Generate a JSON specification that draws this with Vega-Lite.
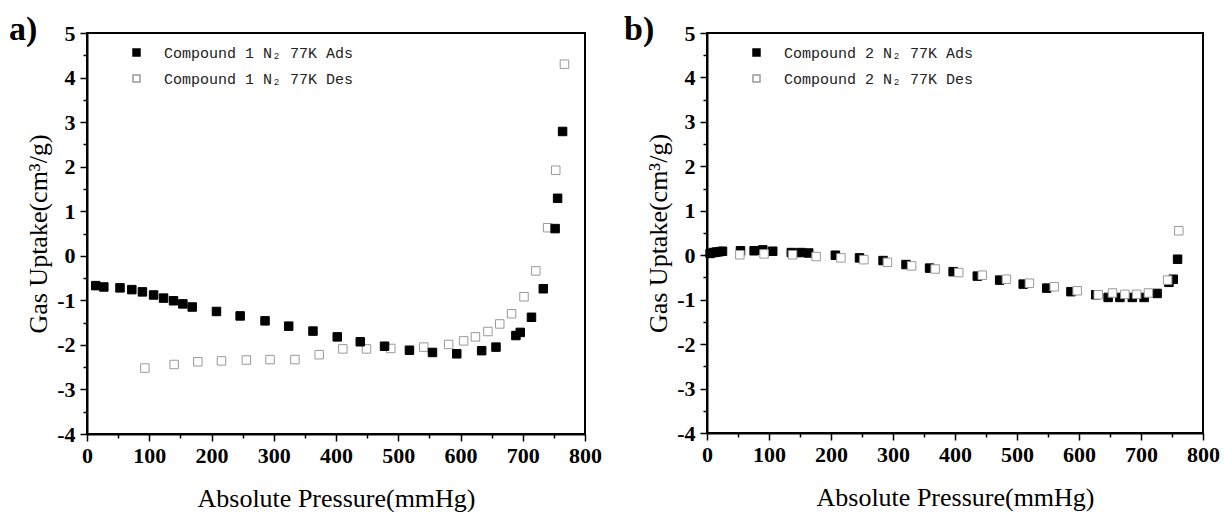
{
  "$schema": "https://vega.github.io/schema/vega-lite/v6.json",
  "background": "white",
  "padding": {"left": 8, "top": 12, "right": 5, "bottom": 0},
  "spacing": 20,
  "config": {
    "view": {"stroke": "black", "strokeWidth": 2},
    "axis": {
      "domainColor": "black", "domainWidth": 2, "tickColor": "black", "tickWidth": 1.5,
      "grid": false, "labelFont": "Liberation Serif", "labelFontWeight": "bold", "labelFontSize": 22,
      "labelColor": "black", "titleFont": "Liberation Serif", "titleFontWeight": "normal",
      "titleFontSize": 26, "titleColor": "black", "labelOverlap": false, "labelFlush": false, "labelBound": false
    },
    "legend": {"labelFont": "Liberation Mono", "labelFontSize": 15, "labelColor": "#222", "symbolSize": 49, "rowPadding": 10, "labelOffset": 20, "labelLimit": 0},
    "title": {"font": "Liberation Serif", "fontWeight": "bold", "fontSize": 34, "anchor": "start", "frame": "group", "color": "black", "baseline": "alphabetic"}
  },
  "datasets": {
    "c1": [
      {"p": 93, "u": -2.52, "s": "Compound 1 N₂ 77K Des"},
      {"p": 140, "u": -2.44, "s": "Compound 1 N₂ 77K Des"},
      {"p": 178, "u": -2.38, "s": "Compound 1 N₂ 77K Des"},
      {"p": 216, "u": -2.36, "s": "Compound 1 N₂ 77K Des"},
      {"p": 256, "u": -2.34, "s": "Compound 1 N₂ 77K Des"},
      {"p": 294, "u": -2.33, "s": "Compound 1 N₂ 77K Des"},
      {"p": 334, "u": -2.33, "s": "Compound 1 N₂ 77K Des"},
      {"p": 373, "u": -2.22, "s": "Compound 1 N₂ 77K Des"},
      {"p": 411, "u": -2.09, "s": "Compound 1 N₂ 77K Des"},
      {"p": 449, "u": -2.09, "s": "Compound 1 N₂ 77K Des"},
      {"p": 488, "u": -2.08, "s": "Compound 1 N₂ 77K Des"},
      {"p": 541, "u": -2.05, "s": "Compound 1 N₂ 77K Des"},
      {"p": 581, "u": -1.99, "s": "Compound 1 N₂ 77K Des"},
      {"p": 605, "u": -1.91, "s": "Compound 1 N₂ 77K Des"},
      {"p": 624, "u": -1.82, "s": "Compound 1 N₂ 77K Des"},
      {"p": 644, "u": -1.70, "s": "Compound 1 N₂ 77K Des"},
      {"p": 663, "u": -1.53, "s": "Compound 1 N₂ 77K Des"},
      {"p": 682, "u": -1.30, "s": "Compound 1 N₂ 77K Des"},
      {"p": 702, "u": -0.92, "s": "Compound 1 N₂ 77K Des"},
      {"p": 721, "u": -0.34, "s": "Compound 1 N₂ 77K Des"},
      {"p": 740, "u": 0.63, "s": "Compound 1 N₂ 77K Des"},
      {"p": 753, "u": 1.92, "s": "Compound 1 N₂ 77K Des"},
      {"p": 767, "u": 4.30, "s": "Compound 1 N₂ 77K Des"},
      {"p": 14, "u": -0.67, "s": "Compound 1 N₂ 77K Ads"},
      {"p": 27, "u": -0.70, "s": "Compound 1 N₂ 77K Ads"},
      {"p": 53, "u": -0.72, "s": "Compound 1 N₂ 77K Ads"},
      {"p": 72, "u": -0.76, "s": "Compound 1 N₂ 77K Ads"},
      {"p": 89, "u": -0.81, "s": "Compound 1 N₂ 77K Ads"},
      {"p": 107, "u": -0.88, "s": "Compound 1 N₂ 77K Ads"},
      {"p": 123, "u": -0.95, "s": "Compound 1 N₂ 77K Ads"},
      {"p": 139, "u": -1.01, "s": "Compound 1 N₂ 77K Ads"},
      {"p": 154, "u": -1.08, "s": "Compound 1 N₂ 77K Ads"},
      {"p": 169, "u": -1.15, "s": "Compound 1 N₂ 77K Ads"},
      {"p": 208, "u": -1.25, "s": "Compound 1 N₂ 77K Ads"},
      {"p": 246, "u": -1.35, "s": "Compound 1 N₂ 77K Ads"},
      {"p": 286, "u": -1.46, "s": "Compound 1 N₂ 77K Ads"},
      {"p": 324, "u": -1.58, "s": "Compound 1 N₂ 77K Ads"},
      {"p": 363, "u": -1.69, "s": "Compound 1 N₂ 77K Ads"},
      {"p": 402, "u": -1.82, "s": "Compound 1 N₂ 77K Ads"},
      {"p": 439, "u": -1.93, "s": "Compound 1 N₂ 77K Ads"},
      {"p": 478, "u": -2.03, "s": "Compound 1 N₂ 77K Ads"},
      {"p": 518, "u": -2.12, "s": "Compound 1 N₂ 77K Ads"},
      {"p": 555, "u": -2.17, "s": "Compound 1 N₂ 77K Ads"},
      {"p": 594, "u": -2.20, "s": "Compound 1 N₂ 77K Ads"},
      {"p": 634, "u": -2.13, "s": "Compound 1 N₂ 77K Ads"},
      {"p": 657, "u": -2.05, "s": "Compound 1 N₂ 77K Ads"},
      {"p": 689, "u": -1.79, "s": "Compound 1 N₂ 77K Ads"},
      {"p": 696, "u": -1.72, "s": "Compound 1 N₂ 77K Ads"},
      {"p": 714, "u": -1.38, "s": "Compound 1 N₂ 77K Ads"},
      {"p": 733, "u": -0.74, "s": "Compound 1 N₂ 77K Ads"},
      {"p": 752, "u": 0.61, "s": "Compound 1 N₂ 77K Ads"},
      {"p": 756, "u": 1.29, "s": "Compound 1 N₂ 77K Ads"},
      {"p": 764, "u": 2.79, "s": "Compound 1 N₂ 77K Ads"}
    ],
    "c2": [
      {"p": 5, "u": 0.04, "s": "Compound 2 N₂ 77K Ads"},
      {"p": 10, "u": 0.06, "s": "Compound 2 N₂ 77K Ads"},
      {"p": 15, "u": 0.07, "s": "Compound 2 N₂ 77K Ads"},
      {"p": 20, "u": 0.08, "s": "Compound 2 N₂ 77K Ads"},
      {"p": 25, "u": 0.09, "s": "Compound 2 N₂ 77K Ads"},
      {"p": 54, "u": 0.10, "s": "Compound 2 N₂ 77K Ads"},
      {"p": 76, "u": 0.10, "s": "Compound 2 N₂ 77K Ads"},
      {"p": 90, "u": 0.12, "s": "Compound 2 N₂ 77K Ads"},
      {"p": 106, "u": 0.09, "s": "Compound 2 N₂ 77K Ads"},
      {"p": 136, "u": 0.06, "s": "Compound 2 N₂ 77K Ads"},
      {"p": 151, "u": 0.06, "s": "Compound 2 N₂ 77K Ads"},
      {"p": 164, "u": 0.05, "s": "Compound 2 N₂ 77K Ads"},
      {"p": 207, "u": 0.0, "s": "Compound 2 N₂ 77K Ads"},
      {"p": 246, "u": -0.06, "s": "Compound 2 N₂ 77K Ads"},
      {"p": 284, "u": -0.12, "s": "Compound 2 N₂ 77K Ads"},
      {"p": 321, "u": -0.21, "s": "Compound 2 N₂ 77K Ads"},
      {"p": 359, "u": -0.29, "s": "Compound 2 N₂ 77K Ads"},
      {"p": 397, "u": -0.37, "s": "Compound 2 N₂ 77K Ads"},
      {"p": 436, "u": -0.47, "s": "Compound 2 N₂ 77K Ads"},
      {"p": 472, "u": -0.56, "s": "Compound 2 N₂ 77K Ads"},
      {"p": 510, "u": -0.65, "s": "Compound 2 N₂ 77K Ads"},
      {"p": 548, "u": -0.74, "s": "Compound 2 N₂ 77K Ads"},
      {"p": 587, "u": -0.82, "s": "Compound 2 N₂ 77K Ads"},
      {"p": 627, "u": -0.89, "s": "Compound 2 N₂ 77K Ads"},
      {"p": 647, "u": -0.95, "s": "Compound 2 N₂ 77K Ads"},
      {"p": 666, "u": -0.95, "s": "Compound 2 N₂ 77K Ads"},
      {"p": 686, "u": -0.95, "s": "Compound 2 N₂ 77K Ads"},
      {"p": 705, "u": -0.95, "s": "Compound 2 N₂ 77K Ads"},
      {"p": 726, "u": -0.86, "s": "Compound 2 N₂ 77K Ads"},
      {"p": 745, "u": -0.61, "s": "Compound 2 N₂ 77K Ads"},
      {"p": 752, "u": -0.54, "s": "Compound 2 N₂ 77K Ads"},
      {"p": 759, "u": -0.09, "s": "Compound 2 N₂ 77K Ads"},
      {"p": 53, "u": 0.01, "s": "Compound 2 N₂ 77K Des"},
      {"p": 92, "u": 0.03, "s": "Compound 2 N₂ 77K Des"},
      {"p": 138, "u": 0.01, "s": "Compound 2 N₂ 77K Des"},
      {"p": 176, "u": -0.03, "s": "Compound 2 N₂ 77K Des"},
      {"p": 216, "u": -0.06, "s": "Compound 2 N₂ 77K Des"},
      {"p": 253, "u": -0.10, "s": "Compound 2 N₂ 77K Des"},
      {"p": 291, "u": -0.16, "s": "Compound 2 N₂ 77K Des"},
      {"p": 330, "u": -0.24, "s": "Compound 2 N₂ 77K Des"},
      {"p": 368, "u": -0.31, "s": "Compound 2 N₂ 77K Des"},
      {"p": 406, "u": -0.39, "s": "Compound 2 N₂ 77K Des"},
      {"p": 444, "u": -0.45, "s": "Compound 2 N₂ 77K Des"},
      {"p": 483, "u": -0.54, "s": "Compound 2 N₂ 77K Des"},
      {"p": 520, "u": -0.63, "s": "Compound 2 N₂ 77K Des"},
      {"p": 560, "u": -0.71, "s": "Compound 2 N₂ 77K Des"},
      {"p": 597, "u": -0.80, "s": "Compound 2 N₂ 77K Des"},
      {"p": 631, "u": -0.89, "s": "Compound 2 N₂ 77K Des"},
      {"p": 654, "u": -0.85, "s": "Compound 2 N₂ 77K Des"},
      {"p": 674, "u": -0.88, "s": "Compound 2 N₂ 77K Des"},
      {"p": 693, "u": -0.88, "s": "Compound 2 N₂ 77K Des"},
      {"p": 712, "u": -0.85, "s": "Compound 2 N₂ 77K Des"},
      {"p": 743, "u": -0.56, "s": "Compound 2 N₂ 77K Des"},
      {"p": 761, "u": 0.55, "s": "Compound 2 N₂ 77K Des"}
    ]
  },
  "resolve": {"scale": {"fill": "independent", "stroke": "independent"}, "legend": {"fill": "independent", "stroke": "independent"}},
  "hconcat": [
    {
      "width": 498, "height": 401,
      "title": {"text": "a)", "dx": -78, "dy": 29},
      "data": {"name": "c1"},
      "mark": {"type": "point", "shape": "square", "filled": true, "size": 72, "strokeWidth": 1, "opacity": 1},
      "encoding": {
        "x": {"field": "p", "type": "quantitative", "scale": {"domain": [0, 800], "nice": false, "zero": false},
          "axis": {"title": "Absolute Pressure(mmHg)", "values": [0,50,100,150,200,250,300,350,400,450,500,550,600,650,700,750,800],
            "labelExpr": "datum.value % 100 === 0 ? '' + datum.value : ''",
            "labelFont": "Liberation Serif", "labelFontWeight": "bold", "labelFontSize": 22,
            "titleFont": "Liberation Serif", "titleFontWeight": "normal", "titleFontSize": 26,
            "tickSize": {"condition": {"test": "datum.value % 100 === 0", "value": 7}, "value": 4},
            "labelPadding": 4, "titlePadding": 19}},
        "y": {"field": "u", "type": "quantitative", "scale": {"domain": [-4, 5], "nice": false, "zero": false},
          "axis": {"title": "Gas Uptake(cm³/g)", "values": [-4,-3.5,-3,-2.5,-2,-1.5,-1,-0.5,0,0.5,1,1.5,2,2.5,3,3.5,4,4.5,5],
            "labelExpr": "datum.value % 1 === 0 ? '' + datum.value : ''",
            "labelFont": "Liberation Serif", "labelFontWeight": "bold", "labelFontSize": 22,
            "titleFont": "Liberation Serif", "titleFontWeight": "normal", "titleFontSize": 26,
            "tickSize": {"condition": {"test": "datum.value % 1 === 0", "value": 7}, "value": 4},
            "labelPadding": 5, "titlePadding": 5}},
        "fill": {"field": "s", "type": "nominal", "scale": {"domain": ["Compound 1 N₂ 77K Ads", "Compound 1 N₂ 77K Des"], "range": ["black", "white"]},
          "legend": {"title": null, "orient": "none", "legendX": 42, "legendY": 12}},
        "stroke": {"field": "s", "type": "nominal", "scale": {"domain": ["Compound 1 N₂ 77K Ads", "Compound 1 N₂ 77K Des"], "range": ["black", "#999999"]},
          "legend": {"title": null, "orient": "none", "legendX": 42, "legendY": 12}}
      }
    },
    {
      "width": 496, "height": 400,
      "title": {"text": "b)", "dx": -83, "dy": 29},
      "data": {"name": "c2"},
      "mark": {"type": "point", "shape": "square", "filled": true, "size": 72, "strokeWidth": 1, "opacity": 1},
      "encoding": {
        "x": {"field": "p", "type": "quantitative", "scale": {"domain": [0, 800], "nice": false, "zero": false},
          "axis": {"title": "Absolute Pressure(mmHg)", "values": [0,50,100,150,200,250,300,350,400,450,500,550,600,650,700,750,800],
            "labelExpr": "datum.value % 100 === 0 ? '' + datum.value : ''",
            "labelFont": "Liberation Serif", "labelFontWeight": "bold", "labelFontSize": 22,
            "titleFont": "Liberation Serif", "titleFontWeight": "normal", "titleFontSize": 26,
            "tickSize": {"condition": {"test": "datum.value % 100 === 0", "value": 7}, "value": 4},
            "labelPadding": 4, "titlePadding": 19}},
        "y": {"field": "u", "type": "quantitative", "scale": {"domain": [-4, 5], "nice": false, "zero": false},
          "axis": {"title": "Gas Uptake(cm³/g)", "values": [-4,-3.5,-3,-2.5,-2,-1.5,-1,-0.5,0,0.5,1,1.5,2,2.5,3,3.5,4,4.5,5],
            "labelExpr": "datum.value % 1 === 0 ? '' + datum.value : ''",
            "labelFont": "Liberation Serif", "labelFontWeight": "bold", "labelFontSize": 22,
            "titleFont": "Liberation Serif", "titleFontWeight": "normal", "titleFontSize": 26,
            "tickSize": {"condition": {"test": "datum.value % 1 === 0", "value": 7}, "value": 4},
            "labelPadding": 5, "titlePadding": 5}},
        "fill": {"field": "s", "type": "nominal", "scale": {"domain": ["Compound 2 N₂ 77K Ads", "Compound 2 N₂ 77K Des"], "range": ["black", "white"]},
          "legend": {"title": null, "orient": "none", "legendX": 42, "legendY": 12}},
        "stroke": {"field": "s", "type": "nominal", "scale": {"domain": ["Compound 2 N₂ 77K Ads", "Compound 2 N₂ 77K Des"], "range": ["black", "#999999"]},
          "legend": {"title": null, "orient": "none", "legendX": 42, "legendY": 12}}
      }
    }
  ]
}
